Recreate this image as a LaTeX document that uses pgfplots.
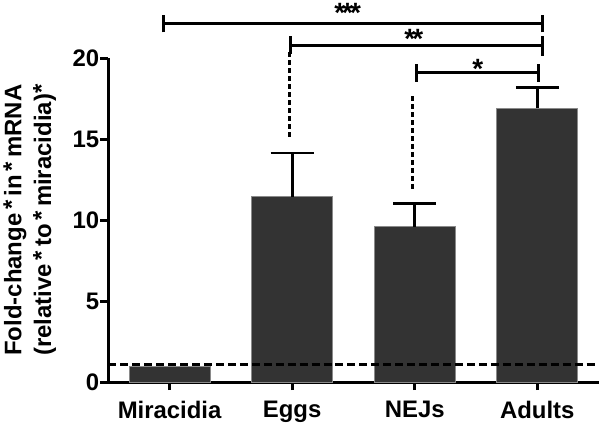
\documentclass[border=0pt]{standalone}
\usepackage{pgfplots}
\pgfplotsset{compat=1.18}
\usepackage{fontspec}
\setmainfont{Liberation Sans}
\definecolor{barfill}{HTML}{333333}
\definecolor{baredge}{HTML}{8A8A8A}
\newcommand{\sa}{\,\raisebox{1.5pt}{*}\,}
\newcommand{\st}{\kern-3pt}
\begin{document}
\begin{tikzpicture}
\begin{axis}[
 scale only axis, width=492pt, height=325pt,
 xmin=-0.5, xmax=3.5, ymin=0, ymax=20,
 axis x line=bottom, axis y line=left,
 axis line style={-, line width=3pt},
 clip=false,
 xtick={0,1,2,3}, xticklabels={Miracidia,Eggs,NEJs,Adults},
 ytick={0,5,10,15,20},
 tick align=outside, major tick length=8pt,
 tick style={line width=3pt, black},
 tick label style={font=\fontsize{24}{26}\selectfont\bfseries},
 yticklabel style={inner xsep=1pt},
 xticklabel style={yshift=-8pt},
 /pgf/number format/assume math mode=true,
 ylabel={Fold-change\sa in\sa mRNA\\(relative\sa to\sa miracidia)\raisebox{1.5pt}{*}},
 ylabel style={align=center, font=\fontsize{24}{30}\selectfont\bfseries},
 ylabel shift=12pt,
]
\addplot[ybar, bar width=0.66, fill=barfill, draw=baredge, line width=1pt]
  coordinates {(0,0.95) (1,11.45) (2,9.6) (3,16.9)};
\addplot[draw=none, mark=none,
  error bars/.cd, y dir=plus, y explicit, error mark=|,
  error bar style={draw=black, solid, line width=3pt},
  error mark options={draw=black, solid, line width=3pt, mark size=21.5pt}]
  coordinates {(1,11.45) +- (0,2.7) (2,9.6) +- (0,1.43) (3,16.9) +- (0,1.3)};
\addplot[black, line width=3pt, dash pattern=on 8pt off 4pt]
  coordinates {(-0.5,1.1) (3.5,1.1)};
% dotted guides
\draw[line width=3pt, dash pattern=on 5pt off 3pt] (axis cs:0.975,20.37) -- (axis cs:0.975,15.14);
\draw[line width=3pt, dash pattern=on 5pt off 3pt] (axis cs:1.98,17.66) -- (axis cs:1.98,11.88);
% brackets
\draw[line width=3pt] (axis cs:-0.05,22.17) -- (axis cs:3.04,22.17);
\draw[line width=3pt] (axis cs:-0.05,21.6) -- (axis cs:-0.05,22.7);
\draw[line width=3pt] (axis cs:3.04,21.6) -- (axis cs:3.04,22.7);
\draw[line width=3pt] (axis cs:0.983,20.8) -- (axis cs:3.04,20.8);
\draw[line width=3pt] (axis cs:0.983,20.25) -- (axis cs:0.983,21.35);
\draw[line width=3pt] (axis cs:3.04,20.15) -- (axis cs:3.04,21.35);
\draw[line width=3pt] (axis cs:2.017,19.1) -- (axis cs:3.01,19.1);
\draw[line width=3pt] (axis cs:2.017,18.55) -- (axis cs:2.017,19.65);
\draw[line width=3pt] (axis cs:3.01,18.55) -- (axis cs:3.01,19.65);
\node[anchor=base, font=\fontsize{28}{30}\selectfont\bfseries, inner sep=0pt, outer sep=0pt] at (axis cs:1.453,22.21) {*\st*\st*};
\node[anchor=base, font=\fontsize{28}{30}\selectfont\bfseries, inner sep=0pt] at (axis cs:1.993,20.63) {*\st*};
\node[anchor=base, font=\fontsize{28}{30}\selectfont\bfseries, inner sep=0pt] at (axis cs:2.514,18.74) {*};
\path (axis cs:1.453,22.21) ++(0,22.5pt) coordinate (topx);
\path (topx) circle (0.1pt);
\end{axis}
\end{tikzpicture}
\end{document}
